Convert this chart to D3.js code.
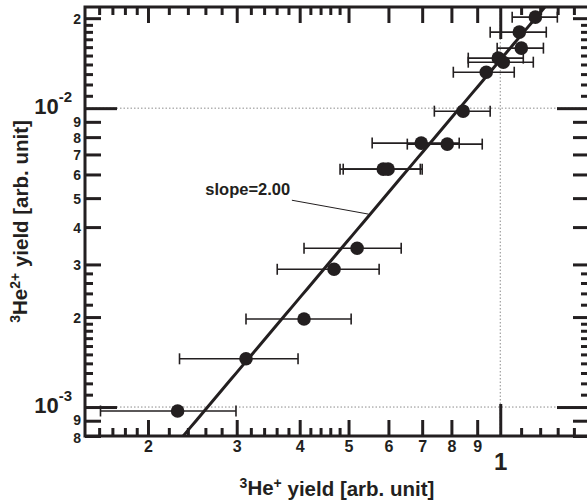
<!doctype html>
<html>
<head>
<script src="https://d3js.org/d3.v7.min.js"></script>
<style>
body { margin:0; background:#fff; }
svg { display:block; font-family:"Liberation Sans", Arial, Helvetica, sans-serif; font-weight:bold; }
.axis path { display:none; }
.axis line { stroke:#231f20; stroke-width:3; }
.axis text { fill:#231f20; font-weight:bold; }
</style>
</head>
<body>
<script>
// 3He+ yield (x) with its error range, 3He2+ yield (y)
var heOne   = [0.229, 0.313, 0.408, 0.468, 0.520, 0.586, 0.599, 0.697, 0.785, 0.844, 0.938, 0.991, 1.014, 1.101, 1.091, 1.174];
var heOneLo = [0.161, 0.231, 0.313, 0.361, 0.408, 0.481, 0.488, 0.557, 0.654, 0.740, 0.807, 0.864, 0.864, 0.986, 0.955, 1.056];
var heOneHi = [0.299, 0.397, 0.506, 0.575, 0.636, 0.694, 0.700, 0.829, 0.921, 0.955, 1.066, 1.111, 1.163, 1.218, 1.234, 1.298];
var heTwo   = [0.00097, 0.00145, 0.00197, 0.00289, 0.00340, 0.00625, 0.00625, 0.00764, 0.00758, 0.00977, 0.01319, 0.01470, 0.01425, 0.01588, 0.01796, 0.02016];

// fit y = A * x^2
var fitA = 0.0145, fitSlope = 2.00;

var xDomain = [0.15, 1.5];
var yDomain = [0.0008, 0.0218];

var xLabelTicks  = [0.2, 0.3, 0.4, 0.5, 0.6, 0.7, 0.8, 0.9];
var xLabelText   = ["2", "3", "4", "5", "6", "7", "8", "9"];
var xDecadeTicks = [1];
var xMinorTicks  = [0.16, 0.17, 0.18, 0.19, 0.22, 0.24, 0.26, 0.28, 0.32, 0.34, 0.36, 0.38,
                    0.42, 0.44, 0.46, 0.48, 1.1, 1.2, 1.3, 1.4];

var yLabelTicks  = [0.0008, 0.0009, 0.002, 0.003, 0.004, 0.005, 0.006, 0.007, 0.008, 0.009, 0.02];
var yLabelText   = ["8", "9", "2", "3", "4", "5", "6", "7", "8", "9", "2"];
var yDecadeTicks = [0.001, 0.01];
var yDecadeExp   = ["-3", "-2"];
var yMinorTicks  = [0.0011, 0.0012, 0.0013, 0.0014, 0.0015, 0.0016, 0.0017, 0.0018, 0.0019,
                    0.0022, 0.0024, 0.0026, 0.0028,
                    0.011, 0.012, 0.013, 0.014, 0.015, 0.016, 0.017, 0.018, 0.019];

var W = 587, H = 503;
var fr = {left:85, right:589, top:7, bottom:436};

var x = d3.scaleLog().domain(xDomain).range([fr.left, fr.right]);
var y = d3.scaleLog().domain(yDomain).range([fr.bottom, fr.top]);

var svg = d3.select("body").append("svg").attr("width", W).attr("height", H);

svg.append("clipPath").attr("id", "clip").append("rect")
  .attr("x", fr.left).attr("y", fr.top)
  .attr("width", fr.right - fr.left).attr("height", fr.bottom - fr.top);

// dotted grid at decades
var grid = svg.append("g").attr("stroke", "#8c8c8c").attr("stroke-width", 1).attr("stroke-dasharray", "1.5,2");
yDecadeTicks.forEach(function(v){
  grid.append("line").attr("x1", fr.left).attr("x2", fr.right).attr("y1", y(v)).attr("y2", y(v));
});
xDecadeTicks.forEach(function(v){
  grid.append("line").attr("y1", fr.top).attr("y2", fr.bottom).attr("x1", x(v)).attr("x2", x(v));
});

var plot = svg.append("g").attr("clip-path", "url(#clip)");

// fit line
var fitX = d3.range(0, 101).map(function(i){ return xDomain[0] * Math.pow(xDomain[1] / xDomain[0], i / 100); });
var line = d3.line().x(function(d){ return x(d); }).y(function(d){ return y(fitA * Math.pow(d, fitSlope)); });
plot.append("path").datum(fitX).attr("fill", "none").attr("stroke", "#231f20").attr("stroke-width", 3).attr("d", line);

// error bars
var idx = d3.range(heOne.length);
var eb = plot.append("g").attr("stroke", "#231f20").attr("stroke-width", 1.6);
eb.selectAll("line.h").data(idx).enter().append("line")
  .attr("x1", function(i){ return x(heOneLo[i]); }).attr("x2", function(i){ return x(heOneHi[i]); })
  .attr("y1", function(i){ return y(heTwo[i]); }).attr("y2", function(i){ return y(heTwo[i]); });
eb.selectAll("line.l").data(idx).enter().append("line")
  .attr("x1", function(i){ return x(heOneLo[i]); }).attr("x2", function(i){ return x(heOneLo[i]); })
  .attr("y1", function(i){ return y(heTwo[i]) - 5.5; }).attr("y2", function(i){ return y(heTwo[i]) + 5.5; });
eb.selectAll("line.r").data(idx).enter().append("line")
  .attr("x1", function(i){ return x(heOneHi[i]); }).attr("x2", function(i){ return x(heOneHi[i]); })
  .attr("y1", function(i){ return y(heTwo[i]) - 5.5; }).attr("y2", function(i){ return y(heTwo[i]) + 5.5; });

plot.selectAll("circle").data(idx).enter().append("circle")
  .attr("cx", function(i){ return x(heOne[i]); })
  .attr("cy", function(i){ return y(heTwo[i]); })
  .attr("r", 6.8).attr("fill", "#231f20");

// slope annotation
var annText = [0.383, 0.00512], annFrom = [0.386, 0.00492], annTo = [0.548, 0.00442];
svg.append("line").attr("stroke", "#231f20").attr("stroke-width", 1)
  .attr("x1", x(annFrom[0])).attr("y1", y(annFrom[1]))
  .attr("x2", x(annTo[0])).attr("y2", y(annTo[1]));
svg.append("text").attr("x", x(annText[0])).attr("y", y(annText[1]))
  .attr("text-anchor", "end").attr("font-size", 16.5).attr("fill", "#231f20")
  .text("slope=" + fitSlope.toFixed(2));

// axes
function addAxis(axis, tx, ty){
  return svg.append("g").attr("class", "axis").attr("transform", "translate(" + tx + "," + ty + ")").call(axis);
}
var noLab = function(){ return ""; };

// bottom
addAxis(d3.axisBottom(x).tickValues(xMinorTicks).tickSize(-8).tickFormat(noLab), 0, fr.bottom);
addAxis(d3.axisBottom(x).tickValues(xLabelTicks).tickSize(-16).tickPadding(5)
  .tickFormat(function(d, i){ return xLabelText[i]; }), 0, fr.bottom)
  .selectAll("text").attr("font-size", 16);
addAxis(d3.axisBottom(x).tickValues(xDecadeTicks).tickSize(-32).tickPadding(17)
  .tickFormat(function(d){ return "1"; }), 0, fr.bottom)
  .selectAll("text").attr("font-size", 24);
// top
addAxis(d3.axisTop(x).tickValues(xMinorTicks).tickSize(-8).tickFormat(noLab), 0, fr.top);
addAxis(d3.axisTop(x).tickValues(xLabelTicks).tickSize(-16).tickFormat(noLab), 0, fr.top);
addAxis(d3.axisTop(x).tickValues(xDecadeTicks).tickSize(-32).tickFormat(noLab), 0, fr.top);

// left
addAxis(d3.axisLeft(y).tickValues(yMinorTicks).tickSize(-8).tickFormat(noLab), fr.left, 0);
addAxis(d3.axisLeft(y).tickValues(yLabelTicks).tickSize(-16).tickPadding(4)
  .tickFormat(function(d, i){ return yLabelText[i]; }), fr.left, 0)
  .selectAll("text").attr("font-size", 14)
  .attr("dy", function(d){ return d === 0.0008 ? "0.48em" : d === 0.0009 ? "0.24em" : "0.36em"; });
var yDec = addAxis(d3.axisLeft(y).tickValues(yDecadeTicks).tickSize(-32).tickPadding(13).tickFormat(noLab), fr.left, 0);
yDec.selectAll(".tick text").each(function(d, i){
  var t = d3.select(this).attr("dy", "0.5em");
  t.append("tspan").attr("font-size", 22).text("10");
  t.append("tspan").attr("font-size", 15).attr("dy", "-0.8em").text(yDecadeExp[i]);
});
// right
addAxis(d3.axisRight(y).tickValues(yMinorTicks).tickSize(-8).tickFormat(noLab), fr.right, 0);
addAxis(d3.axisRight(y).tickValues(yLabelTicks).tickSize(-16).tickFormat(noLab), fr.right, 0);
addAxis(d3.axisRight(y).tickValues(yDecadeTicks).tickSize(-32).tickFormat(noLab), fr.right, 0);

// frame
svg.append("rect").attr("x", fr.left).attr("y", fr.top)
  .attr("width", fr.right - fr.left).attr("height", fr.bottom - fr.top)
  .attr("fill", "none").attr("stroke", "#231f20").attr("stroke-width", 3);

// axis titles
var xt = svg.append("text").attr("x", 337).attr("y", 496)
  .attr("text-anchor", "middle").attr("font-size", 20.5).attr("fill", "#231f20");
xt.append("tspan").attr("font-size", 14).attr("dy", "-0.55em").text("3");
xt.append("tspan").attr("dy", "0.35em").text("He");
xt.append("tspan").attr("font-size", 14).attr("dy", "-0.5em").text("+");
xt.append("tspan").attr("dy", "0.35em").text(" yield [arb. unit]");

var yt = svg.append("text").attr("transform", "translate(28," + ((fr.top + fr.bottom) / 2) + ") rotate(-90)")
  .attr("text-anchor", "middle").attr("font-size", 20.5).attr("fill", "#231f20");
yt.append("tspan").attr("font-size", 14).attr("dy", "-0.55em").text("3");
yt.append("tspan").attr("dy", "0.35em").text("He");
yt.append("tspan").attr("font-size", 14).attr("dy", "-0.5em").text("2+");
yt.append("tspan").attr("dy", "0.35em").text(" yield [arb. unit]");
</script>
</body>
</html>
